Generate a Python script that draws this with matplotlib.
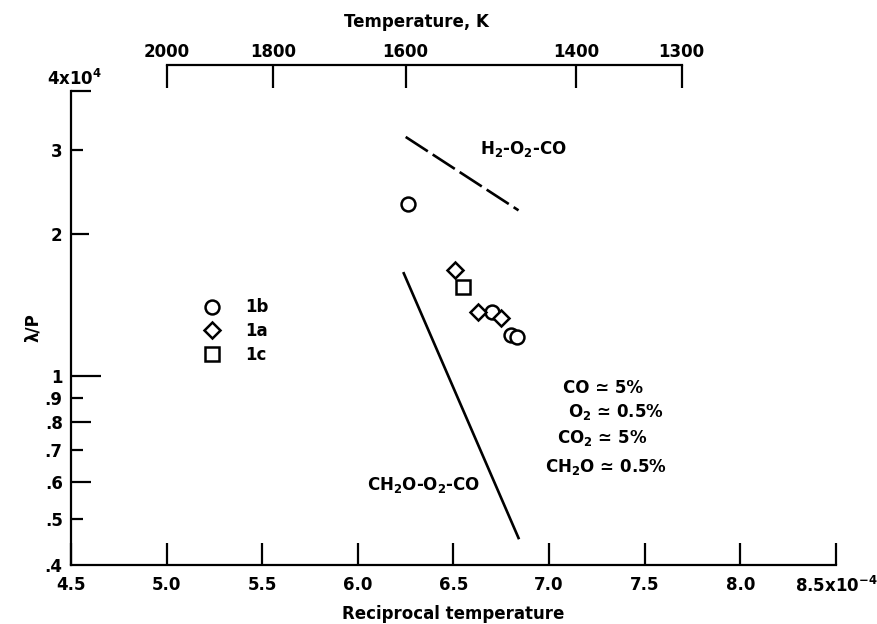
import numpy as np
import matplotlib
matplotlib.use("Agg")
import matplotlib.pyplot as plt
from matplotlib.ticker import FixedLocator, FixedFormatter, NullLocator

# reciprocal temperature (x10^-4 1/K) and lambda/P (x10^4)
circle_x = [6.26, 6.70, 6.80, 6.83]
circle_y = [2.31, 1.37, 1.225, 1.21]
diamond_x = [6.51, 6.63, 6.75]
diamond_y = [1.68, 1.37, 1.33]
square_x = [6.55]
square_y = [1.54]

# correlation lines
h2_line_x = [6.25, 6.84]
h2_line_y = [3.2, 2.24]
ch2o_line_x = [6.24, 6.84]
ch2o_line_y = [1.65, 0.456]

x_ticks = [4.5, 5.0, 5.5, 6.0, 6.5, 7.0, 7.5, 8.0, 8.5]
x_labels = ["4.5", "5.0", "5.5", "6.0", "6.5", "7.0", "7.5", "8.0", "8.5x10$^{-4}$"]
y_ticks = [0.4, 0.5, 0.6, 0.7, 0.8, 0.9, 1, 2, 3, 4]
y_labels = [".4", ".5", ".6", ".7", ".8", ".9", "1", "2", "3", ""]
y_tick_len = [0, 12, 20, 12, 20, 12, 30, 18, 12, 20]  # pixels
temp_ticks = [2000, 1800, 1600, 1400, 1300]

plt.rcParams["font.family"] = ["DejaVu Sans"]
plt.rcParams["font.weight"] = "bold"
plt.rcParams["axes.labelweight"] = "bold"
FS = 12
LW = 1.6

fig = plt.figure(figsize=(8.78, 6.24), dpi=100)
ax = fig.add_axes([71 / 878, 59 / 624, 765 / 878, 474 / 624])

ax.plot(h2_line_x, h2_line_y, color="black", lw=1.9, dashes=(10, 2.2))
ax.plot(ch2o_line_x, ch2o_line_y, color="black", lw=1.9)

mk = dict(linestyle="none", markerfacecolor="white", markeredgecolor="black",
          markeredgewidth=1.8, color="black")
ax.plot(circle_x, circle_y, marker="o", markersize=10, label="1b", **mk)
ax.plot(diamond_x, diamond_y, marker="D", markersize=8, label="1a", **mk)
ax.plot(square_x, square_y, marker="s", markersize=9.5, label="1c", **mk)

ax.set_yscale("log")
ax.set_xlim(4.5, 8.5)
ax.set_ylim(0.4, 4)

for s in ["top", "right"]:
    ax.spines[s].set_visible(False)
for s in ["left", "bottom"]:
    ax.spines[s].set_linewidth(LW)

ax.set_xticks(x_ticks)
ax.set_xticklabels(x_labels, fontsize=FS)
ax.tick_params(axis="x", direction="in", length=16, width=LW, pad=8)

ax.yaxis.set_major_locator(FixedLocator(y_ticks))
ax.yaxis.set_major_formatter(FixedFormatter(y_labels))
ax.yaxis.set_minor_locator(NullLocator())
ax.tick_params(axis="y", direction="in", width=LW, pad=6, labelsize=FS)
for t, L in zip(ax.yaxis.get_major_ticks(), y_tick_len):
    t.tick1line.set_markersize(L * 0.72)

ax.text(0.005, 1.005, "4x10$^4$", transform=ax.transAxes, ha="center",
        va="bottom", fontsize=FS)

ax.set_xlabel("Reciprocal temperature", fontsize=FS, labelpad=6)
ax.set_ylabel("λ/P", fontsize=FS, labelpad=2)

# temperature scale on top
secax = ax.secondary_xaxis(1.055, functions=(lambda x: 1e4 / x, lambda t: 1e4 / t))
secax.set_xticks(temp_ticks)
secax.set_xticklabels([str(t) for t in temp_ticks], fontsize=FS)
secax.tick_params(axis="x", direction="in", length=16.5, width=LW, pad=3)
secax.spines["top"].set_linewidth(LW)
secax.spines["top"].set_bounds(1300, 2000)
fig.text(416 / 878, 1 - 22 / 624, "Temperature, K", fontsize=FS,
         fontweight="bold", ha="center", va="center")

ax.legend(loc="upper left", bbox_to_anchor=(0.16, 0.58), frameon=False,
          fontsize=FS, handlelength=1.2, handletextpad=1.4, labelspacing=0.35,
          borderpad=0)

ax.text(6.64, 3.02, "H$_2$-O$_2$-CO", fontsize=FS, ha="left", va="center")
ax.text(6.05, 0.59, "CH$_2$O-O$_2$-CO", fontsize=FS, ha="left", va="center")
ax.text(7.07, 0.947, "CO ≃ 5%", fontsize=FS, ha="left", va="center")
ax.text(7.10, 0.842, "O$_2$ ≃ 0.5%", fontsize=FS, ha="left", va="center")
ax.text(7.04, 0.742, "CO$_2$ ≃ 5%", fontsize=FS, ha="left", va="center")
ax.text(6.98, 0.644, "CH$_2$O ≃ 0.5%", fontsize=FS, ha="left", va="center")

fig.savefig("out.png", dpi=100)
